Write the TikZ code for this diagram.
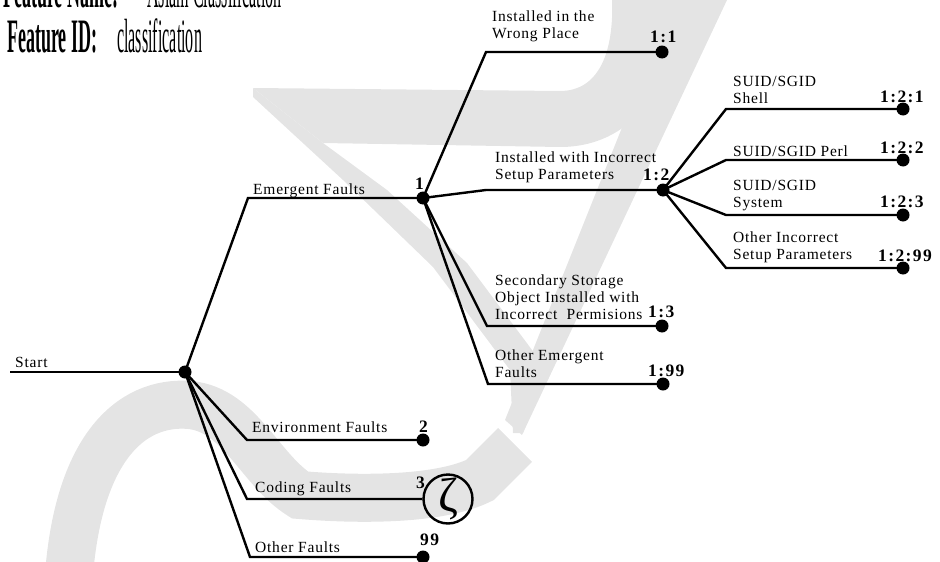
\documentclass[tikz,border=0pt]{standalone}
\usepackage{fontspec}
\setmainfont{Liberation Serif}
\newfontfamily\treefont[LetterSpace=5]{Liberation Serif}
\newfontfamily\numfont[LetterSpace=8]{Liberation Serif}
\newfontfamily\headfont[FakeStretch=0.375]{Liberation Serif}
\newfontfamily\headlight[FakeStretch=0.335]{Liberation Serif}
\definecolor{wm}{RGB}{228,228,228}
\tikzset{
  branch/.style={line width=2.4pt, line join=miter},
  dot/.style={circle, fill=black, inner sep=0pt, minimum size=13pt},
  lbl/.style={font=\treefont\fontsize{15.5}{16.7}\selectfont, inner sep=0pt, align=left, anchor=base west},
  num/.style={font=\numfont\bfseries\fontsize{17.5}{20}\selectfont, inner sep=0pt, anchor=base west},
  head/.style={inner sep=0pt, anchor=base west},
}
\begin{document}
\begin{tikzpicture}[x=1pt,y=-1pt]
\useasboundingbox (0,0) rectangle (940,562);

% faint background emblem
\fill[wm] (253,88) -- (560,91) .. controls (600,91) and (614,50) .. (612,0)
  -- (676,0) .. controls (676,90) and (630,147) .. (560,147) -- (323,143) -- cycle;
\fill[wm] (253,88) -- (323,143) -- (387,190) -- (467,263) -- (547,370) -- (523,433)
  -- (513,433) -- (510,370) -- (433,267) -- (343,180) -- (253,97) -- cycle;
\fill[wm] (673,0) -- (727,0) -- (522,435) -- (505,420) -- cycle;
\draw[wm, line width=48pt] (68,590) .. controls (75,450) and (130,400) .. (190,405)
  .. controls (240,410) and (260,470) .. (300,495)
  .. controls (360,500) and (440,500) .. (480,480) -- (515,445);

% header
\node[head, font=\headfont\bfseries\fontsize{48}{48}\selectfont] (fname) at (3,8) {Feature Name:};
\node[head, font=\headlight\fontsize{48}{48}\selectfont] (fnameval) at (147,8) {Asiam Classification};
\node[head, font=\headfont\bfseries\fontsize{48}{48}\selectfont] (fid) at (7,52) {Feature ID:};
\node[head, font=\headlight\fontsize{48}{48}\selectfont] (fidval) at (117,52) {classification};

% tree nodes
\coordinate (start) at (10,372);
\node[dot] (root) at (185,372) {};
\coordinate (bE) at (248,198);
\node[dot] (n1) at (423,198) {};
\coordinate (bEnv) at (247,440);
\node[dot] (n2) at (423,440) {};
\coordinate (bCod) at (247,499);
\node[circle, draw, line width=2.4pt, minimum size=49pt, inner sep=0pt,
      font=\fontsize{48}{48}\selectfont] (n3) at (448,499) {ζ};
\coordinate (bOth) at (250,557);
\node[dot] (n99) at (423,557) {};

\coordinate (b11) at (486,52);   \node[dot] (n11) at (662,52) {};
\coordinate (b12) at (486,190);  \node[dot] (n12) at (663,190) {};
\coordinate (b13) at (487,326);  \node[dot] (n13) at (662,326) {};
\coordinate (b199) at (488,384); \node[dot] (n199) at (663,384) {};

\coordinate (b121) at (726,109);  \node[dot] (n121) at (903,109) {};
\coordinate (b122) at (726,160);  \node[dot] (n122) at (903,160) {};
\coordinate (b123) at (726,215);  \node[dot] (n123) at (903,215) {};
\coordinate (b1299) at (726,268); \node[dot] (n1299) at (903,268) {};

% connectors
\draw[branch] (start) -- (root.center);
\draw[branch] (root.center) -- (bE) -- (n1.center);
\draw[branch] (root.center) -- (bEnv) -- (n2.center);
\draw[branch] (root.center) -- (bCod) -- (n3.west);
\draw[branch] (root.center) -- (bOth) -- (n99.center);
\draw[branch] (n1.center) -- (b11) -- (n11.center);
\draw[branch] (n1.center) -- (b12) -- (n12.center);
\draw[branch] (n1.center) -- (b13) -- (n13.center);
\draw[branch] (n1.center) -- (b199) -- (n199.center);
\draw[branch] (n12.center) -- (b121) -- (n121.center);
\draw[branch] (n12.center) -- (b122) -- (n122.center);
\draw[branch] (n12.center) -- (b123) -- (n123.center);
\draw[branch] (n12.center) -- (b1299) -- (n1299.center);

% branch texts (anchored at the baseline of their last line)
\node[lbl] (tStart) at (15,367) {Start};
\node[lbl] (tEmer) at (253,194) {Emergent Faults};
\node[lbl] (tEnv) at (252,432) {Environment Faults};
\node[lbl] (tCod) at (255,492) {Coding Faults};
\node[lbl] (tOth) at (255,552) {Other Faults};
\node[lbl] (t11) at (492,38.5) {Installed in the\\Wrong Place};
\node[lbl] (t12) at (495,179) {Installed with Incorrect\\Setup Parameters};
\node[lbl] (t13) at (495,319) {Secondary Storage\\Object Installed with\\Incorrect\ \ Permisions};
\node[lbl] (t199) at (495,377) {Other Emergent\\Faults};
\node[lbl] (t121) at (733,103) {SUID/SGID\\Shell};
\node[lbl] (t122) at (733,156) {SUID/SGID Perl};
\node[lbl] (t123) at (733,207) {SUID/SGID\\System};
\node[lbl] (t1299) at (733,259) {Other Incorrect\\Setup Parameters};

% identifiers
\node[num] (l1) at (415,189) {1};
\node[num] (l2) at (419,432) {2};
\node[num] (l3) at (416,488) {3};
\node[num] (l99) at (420,545) {99};
\node[num] (l11) at (650,42.7) {1:1};
\node[num] (l12) at (643,180) {1:2};
\node[num] (l13) at (648,317) {1:3};
\node[num] (l199) at (648,376) {1:99};
\node[num] (l121) at (880,102) {1:2:1};
\node[num] (l122) at (880,153) {1:2:2};
\node[num] (l123) at (880,207) {1:2:3};
\node[num] (l1299) at (878,261) {1:2:99};
\end{tikzpicture}
\end{document}
